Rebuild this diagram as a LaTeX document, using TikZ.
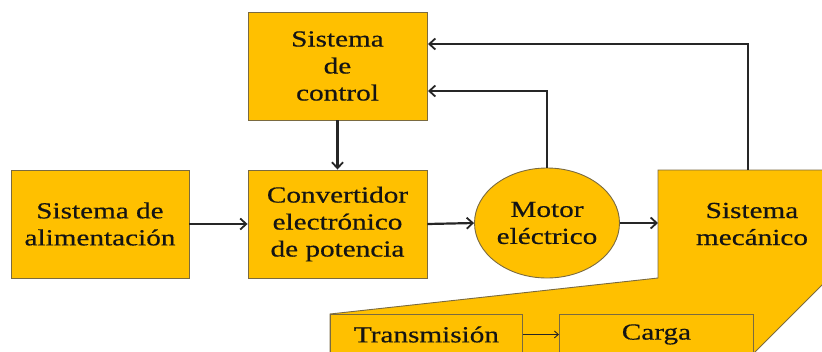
\documentclass[tikz,border=0pt]{standalone}
\usepackage{fontspec}
\setmainfont{Liberation Serif}[FakeStretch=1.27,FakeBold=0.5]
\usetikzlibrary{shapes.geometric,arrows.meta}
\definecolor{boxfill}{HTML}{FFC000}
\definecolor{boxline}{HTML}{7A6A40}
\definecolor{arrcol}{HTML}{262626}
\tikzset{
  blk/.style={draw=boxline, line width=0.9pt, fill=boxfill, inner sep=0pt,
    align=center, font=\fontsize{23}{27}\selectfont, text=black!92},
  arr/.style={draw=arrcol, line width=2.2pt,
    -{Straight Barb[length=6pt,width=11pt,line width=1.8pt]}},
  thinarr/.style={draw=arrcol, line width=1pt,
    -{Straight Barb[length=4pt,width=7pt,line width=0.9pt]}}
}
\begin{document}
\begin{tikzpicture}[x=1pt,y=-1pt]
\useasboundingbox (0,0) rectangle (822,351);
\clip (0,0) rectangle (822,351);
% mechanical system shape
\filldraw[draw=boxline, line width=0.9pt, fill=boxfill]
  (658,170) -- (830,170) -- (830,277) -- (740,367) -- (330,367) -- (330,314) -- (658,278) -- cycle;
\node[blk, draw=none, fill=none] (mec) at (752,224) {Sistema\\mecánico};
% blocks
\node[blk, minimum width=179pt, minimum height=108pt] (ctrl) at (337.5,66) {Sistema\\de\\control};
\node[blk, minimum width=178pt, minimum height=108pt] (alim) at (100,224) {Sistema de\\alimentación};
\node[blk, minimum width=179pt, minimum height=108pt] (conv) at (337.5,224) {Convertidor\\electrónico\\de potencia};
\node[blk, ellipse, minimum width=145pt, minimum height=110pt] (motor) at (547,223) {Motor\\eléctrico};
\node[blk, anchor=north west, minimum width=192pt, minimum height=40pt] (trans) at (330,314) {Transmisión};
\node[blk, anchor=north west, minimum width=194pt, minimum height=40pt] (carga) at (559,314) {Carga};
% coordinates
\coordinate (mecin) at (658,223);
\coordinate (mectop) at (748,170);
\coordinate (fbA) at (428,91);
\coordinate (fbB) at (428,44);
% connectors
\draw[arr] (ctrl.south) -- (conv.north);
\draw[arr] (alim.east) -- (conv.west);
\draw[arr] (conv.east) -- (motor.west);
\draw[arr] (motor.east) -- (mecin);
\draw[arr] (motor.north) |- (fbA);
\draw[arr] (mectop) |- (fbB);
\draw[thinarr] (trans.east) -- (carga.west);
\end{tikzpicture}
\end{document}
